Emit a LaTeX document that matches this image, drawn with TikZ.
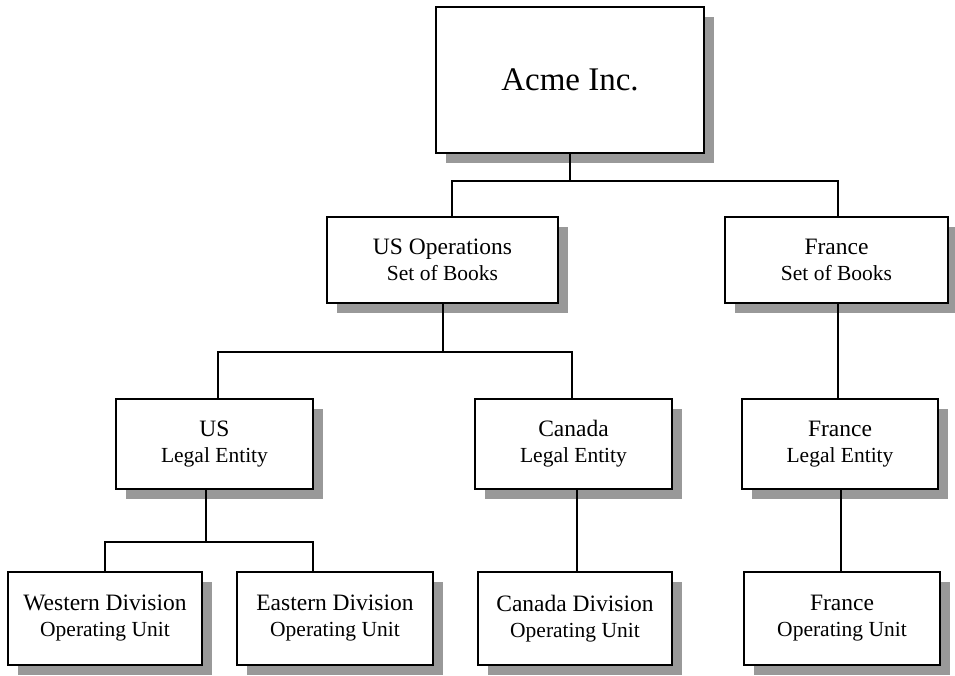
\documentclass[tikz,border=0pt]{standalone}
\usepackage{fontspec}
\setmainfont{Liberation Serif}
\usetikzlibrary{shadows}
\newcommand\lnB{\fontsize{21.5}{26}\selectfont}
\tikzset{
  unitbox/.style={draw=black, line width=2pt, fill=white, rectangle, inner sep=0pt,
    align=center, text=black, font=\fontsize{23.5}{26}\selectfont,
    general shadow={fill=black!40, shadow xshift=10pt, shadow yshift=-10pt}},
  conn/.style={draw=black, line width=1.7pt}
}
\begin{document}
\begin{tikzpicture}[x=1pt,y=-1pt]
\useasboundingbox (0,0) rectangle (955,675);
% boxes
\node[unitbox, minimum width=268pt, minimum height=146pt, font=\fontsize{33}{38}\selectfont] (acme) at (570,80) {Acme Inc.};
\node[unitbox, minimum width=231pt, minimum height=86pt] (usops) at (442.5,260) {US Operations\\\lnB Set of Books};
\node[unitbox, minimum width=223pt, minimum height=86pt] (frsob) at (836.5,260) {France\\\lnB Set of Books};
\node[unitbox, minimum width=197pt, minimum height=90pt] (usle) at (214.5,444) {US\\\lnB Legal Entity};
\node[unitbox, minimum width=197pt, minimum height=90pt] (cale) at (573.5,444) {Canada\\\lnB Legal Entity};
\node[unitbox, minimum width=196pt, minimum height=90pt] (frle) at (840,444) {France\\\lnB Legal Entity};
\node[unitbox, minimum width=194pt, minimum height=93pt] (west) at (105,618.5) {Western Division\\\lnB Operating Unit};
\node[unitbox, minimum width=196pt, minimum height=93pt] (east) at (335,618.5) {Eastern Division\\\lnB Operating Unit};
\node[unitbox, minimum width=194pt, minimum height=93pt] (cadiv) at (575,618.5) {Canada Division\\\lnB Operating Unit};
\node[unitbox, minimum width=196pt, minimum height=93pt] (frou) at (842,618.5) {France\\\lnB Operating Unit};
% junction coordinates
\coordinate (j1l) at (452,181);
\coordinate (j1r) at (838,181);
\coordinate (j2l) at (218,352);
\coordinate (j2r) at (572,352);
\coordinate (j2m) at (443,352);
\coordinate (j3l) at (105,542);
\coordinate (j3r) at (313,542);
\coordinate (j3m) at (206,542);
\coordinate (v1) at (838,0);
\coordinate (v2) at (577,0);
\coordinate (v3) at (841,0);
% connectors
\draw[conn] (acme.south) -- (acme.south |- j1l);
\draw[conn] (usops.north -| j1l) -- (j1l) -- (j1r) -- (frsob.north -| j1r);
\draw[conn] (usops.south -| j2m) -- (j2m);
\draw[conn] (usle.north -| j2l) -- (j2l) -- (j2r) -- (cale.north -| j2r);
\draw[conn] (usle.south -| j3m) -- (j3m);
\draw[conn] (west.north -| j3l) -- (j3l) -- (j3r) -- (east.north -| j3r);
\draw[conn] (cale.south -| v2) -- (cadiv.north -| v2);
\draw[conn] (frsob.south -| v1) -- (frle.north -| v1);
\draw[conn] (frle.south -| v3) -- (frou.north -| v3);
\end{tikzpicture}
\end{document}
